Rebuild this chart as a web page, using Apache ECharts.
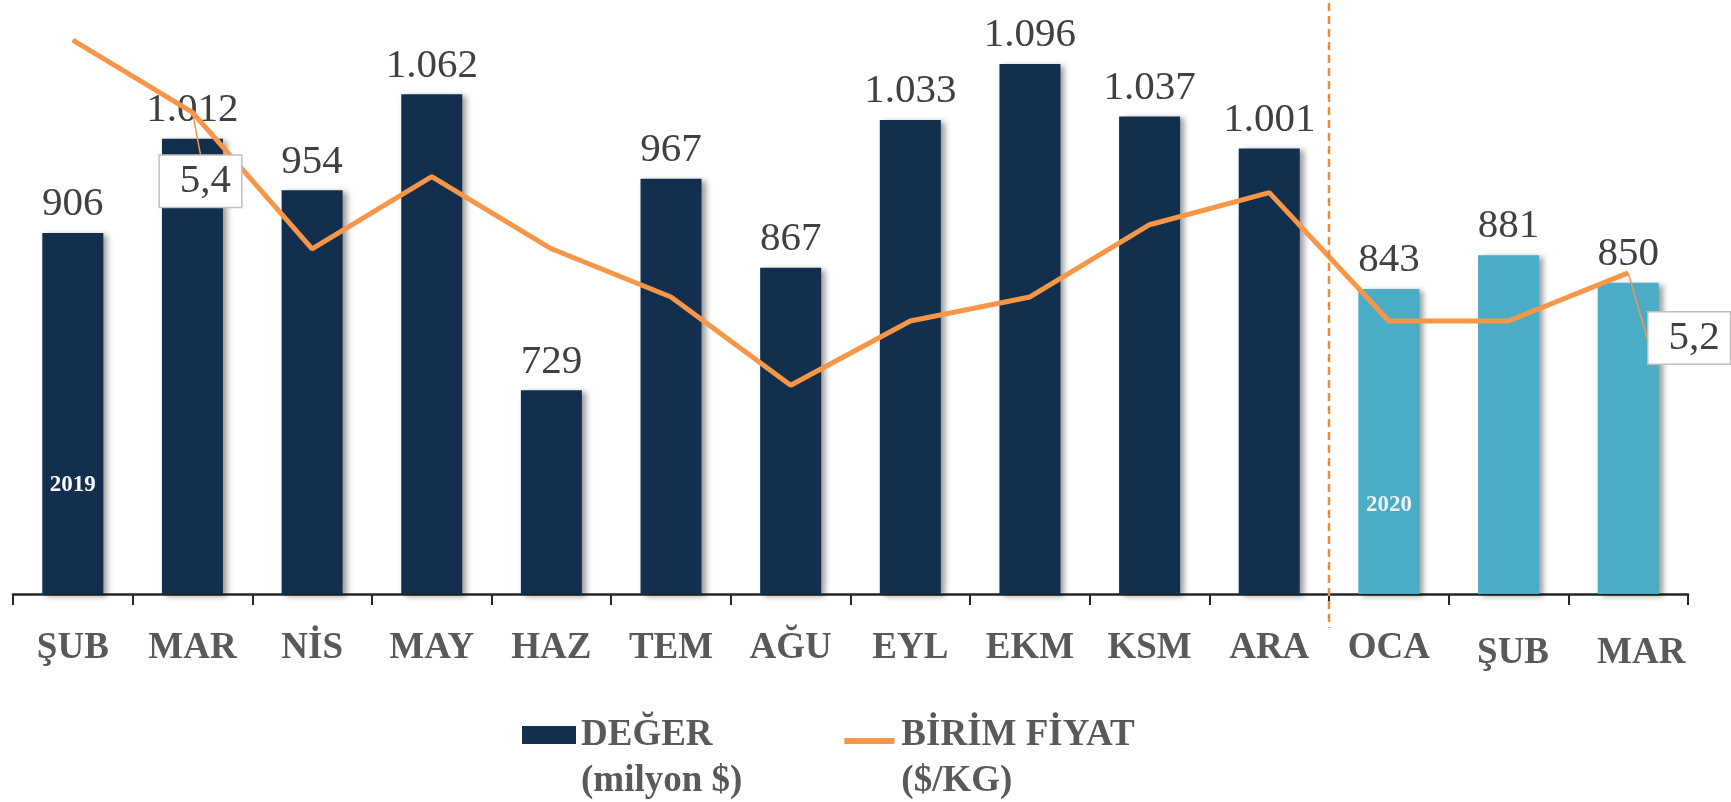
<!DOCTYPE html>
<html>
<head>
<meta charset="utf-8">
<script src="https://cdn.jsdelivr.net/npm/echarts@6/dist/echarts.min.js"></script>
<style>
  html, body { margin: 0; padding: 0; background: #fff; }
  #main { width: 1731px; height: 802px; }
</style>
</head>
<body>
<div id="main"></div>
<script>
// aylar (2019 Şubat - 2020 Mart)
const months = ['ŞUB', 'MAR', 'NİS', 'MAY', 'HAZ', 'TEM', 'AĞU', 'EYL', 'EKM', 'KSM', 'ARA', 'OCA', 'ŞUB', 'MAR'];
// ihracat değeri (milyon $)
const exportValue = [906, 1012, 954, 1062, 729, 967, 867, 1033, 1096, 1037, 1001, 843, 881, 850];
// birim fiyat ($/KG)
const unitPrice = [5.49, 5.40, 5.23, 5.32, 5.23, 5.17, 5.06, 5.14, 5.17, 5.26, 5.30, 5.14, 5.14, 5.20];
// fiyat etiketi gösterilen aylar
const priceLabelIdx = [1, 13];
// 2020 ilk ayın sırası
const firstIdx2020 = 11;
// yıl etiketleri
const yearTags = ['2019', '2020'];
const yearTagIdx = [0, 11];
const yearTagLevel = [623, 600];

const NAVY = '#122f4d';
const TEAL = '#4bacc6';
const ORANGE = '#f79646';
const SERIF = '"Liberation Serif", "Times New Roman", serif';

function trNum(v) {
  return String(v).replace(/\B(?=(\d{3})+(?!\d))/g, '.');
}

let myChart = echarts.init(document.getElementById('main'));

let barData = exportValue.map(function (v, i) {
  return i >= firstIdx2020 ? { value: v, itemStyle: { color: TEAL } } : v;
});
let lineData = unitPrice.map(function (v, i) {
  return priceLabelIdx.indexOf(i) > -1 ? { value: v, label: { show: true } } : v;
});

let labelFont = { fontFamily: SERIF, fontWeight: 'bold', fontSize: 37, color: '#595959' };

let option = {
  animation: false,
  grid: { left: 13, right: 43, top: 16, bottom: 208 },
  legend: {
    left: 517,
    top: 661,
    itemWidth: 54,
    itemHeight: 18,
    itemGap: 102,
    itemStyle: { borderWidth: 0, shadowBlur: 0, shadowOffsetX: 0, shadowOffsetY: 0 },
    textStyle: {
      fontFamily: SERIF, fontWeight: 'bold', fontSize: 37, color: '#595959',
      lineHeight: 46
    },
    // boş ilk satır: ikon ilk satırla hizalansın
    formatter: function (name) { return '\n' + name; },
    data: [
      { name: 'DEĞER\n(milyon $)', icon: 'rect' },
      { name: 'BİRİM FİYAT\n($/KG)', icon: 'path://M0,0 M0,18 M0,12 L50,12 L50,18 L0,18 Z' }
    ]
  },
  xAxis: {
    type: 'category',
    data: months,
    axisLine: { show: true, lineStyle: { color: '#262626', width: 2.5 } },
    axisTick: { show: true, interval: 0, length: 11, lineStyle: { color: '#262626', width: 2 } },
    axisLabel: Object.assign({
      interval: 0, margin: 36,
      formatter: function (v, i) {
        if (i === 12) return '{a|' + v + '}';
        if (i === 13) return '{b|' + v + '}';
        return v;
      },
      rich: {
        a: Object.assign({ padding: [5, 0, 0, 9] }, labelFont),
        b: Object.assign({ padding: [5, 0, 0, 26] }, labelFont)
      }
    }, labelFont)
  },
  yAxis: [
    { type: 'value', min: 500, max: 1150, show: false, splitLine: { show: false } },
    { type: 'value', min: 4.8, max: 5.52, show: false, splitLine: { show: false } }
  ],
  series: [
    {
      name: 'DEĞER\n(milyon $)',
      type: 'bar',
      barWidth: '51%',
      data: barData,
      itemStyle: {
        color: NAVY,
        shadowColor: 'rgba(0,0,0,0.4)', shadowBlur: 6, shadowOffsetX: 4, shadowOffsetY: 2
      },
      label: {
        show: true, position: 'top', distance: 8,
        fontFamily: SERIF, fontSize: 41, color: '#404040',
        formatter: function (p) { return trNum(p.value); }
      }
    },
    {
      name: 'BİRİM FİYAT\n($/KG)',
      type: 'line',
      yAxisIndex: 1,
      data: lineData,
      symbol: 'circle',
      symbolSize: 1,
      showSymbol: true,
      lineStyle: { color: ORANGE, width: 5 },
      itemStyle: { color: ORANGE },
      label: {
        show: false, position: 'inside',
        fontFamily: SERIF, fontSize: 41, color: '#404040',
        backgroundColor: '#fff', borderColor: '#bfbfbf', borderWidth: 1.5,
        padding: [8, 10, 2, 20],
        formatter: function (p) { return p.value.toFixed(1).replace('.', ','); }
      },
      labelLine: { show: true, lineStyle: { color: ORANGE, width: 1.5 } },
      labelLayout: function (p) {
        return p.dataIndex === 1 ? { dx: 8, dy: 69 } : { dx: 61, dy: 65 };
      }
    }
  ]
};

myChart.setOption(option);

// 2019 / 2020 ayrım çizgisi ve yıl etiketleri
let xa = myChart.convertToPixel({ xAxisIndex: 0 }, firstIdx2020 - 1);
let xb = myChart.convertToPixel({ xAxisIndex: 0 }, firstIdx2020);
let splitX = Math.round((xa + xb) / 2);
let axisY = myChart.convertToPixel({ yAxisIndex: 0 }, 500);

let graphics = [{
  type: 'line',
  shape: { x1: splitX, y1: 3, x2: splitX, y2: axisY + 34 },
  style: { stroke: '#f08a3c', lineWidth: 2.5, lineDash: [8, 5] },
  z: 10
}];
yearTags.forEach(function (t, k) {
  let pt = myChart.convertToPixel({ xAxisIndex: 0, yAxisIndex: 0 }, [yearTagIdx[k], yearTagLevel[k]]);
  graphics.push({
    type: 'text',
    x: pt[0], y: pt[1],
    style: {
      text: t, fill: k === 0 ? '#ffffff' : '#eef4f6',
      font: 'bold 23px ' + SERIF,
      align: 'center', verticalAlign: 'middle'
    },
    z: 10
  });
});
myChart.setOption({ graphic: graphics });
</script>
</body>
</html>
